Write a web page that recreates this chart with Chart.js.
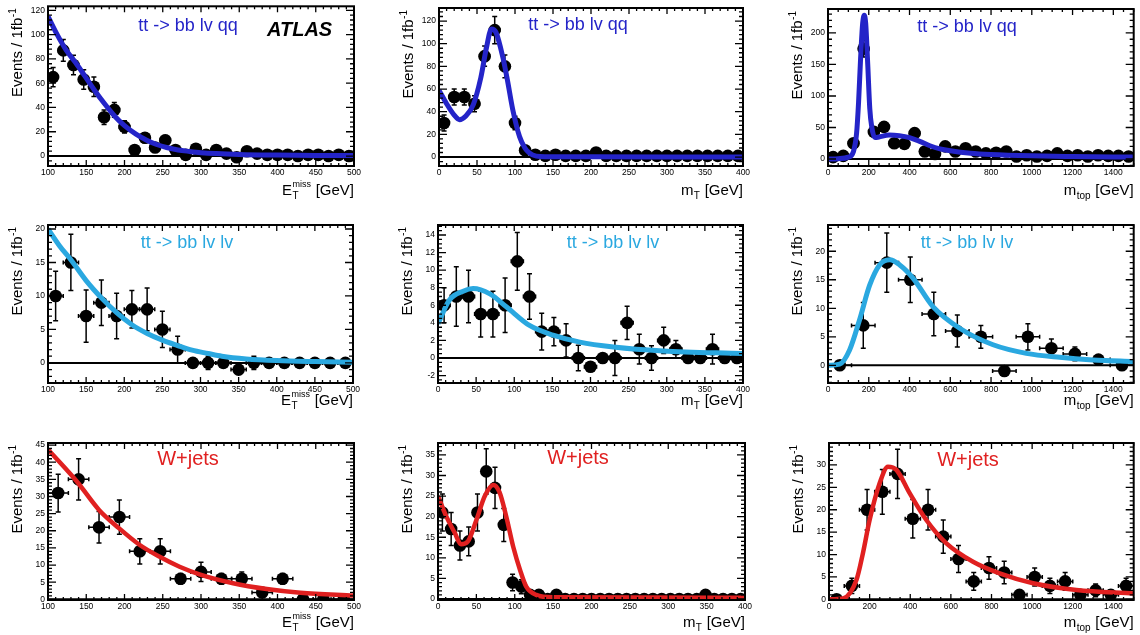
<!DOCTYPE html>
<html><head><meta charset="utf-8">
<script src="https://cdn.jsdelivr.net/npm/chart.js@4.4.0/dist/chart.umd.min.js"></script>
<style>
html,body{margin:0;padding:0;background:#fff;width:1140px;height:635px;overflow:hidden;position:relative}
canvas{position:absolute}
</style></head><body>
<script>
const FONT = '"Liberation Sans", Arial, Helvetica, sans-serif';

// ---------- Panel 1 : tt -> bb lv qq, ETmiss ----------
const p1X = [106.7,120,133.3,146.7,160,173.3,186.7,200,213.3,226.7,240,253.3,266.7,280,293.3,306.7,320,333.3,346.7,360,373.3,386.7,400,413.3,426.7,440,453.3,466.7,480,493.3];
const p1Y = [65,87,75,63,57,32,38,24,5,15,7,13,5,1,6,1,5,2,-1,4,2,1,1,1,0,1,1,0,1,0];
const p1Err = [8,9,8,8,8,6,6,5,3,4,3,4,3,2,3,2,3,2,2,2,2,2,2,2,2,2,2,2,2,2];
const p1CurveX = [100,112,124,136,148,161,174,187,200,215,229,242,255,270,285,300,320,350,400,450,500];
const p1CurveY = [115,100,87,77,66,54,43,33,25,18,13,9.5,7,5,3.8,2.8,2,1.3,0.8,0.5,0.4];
const p1XTicks = [100,150,200,250,300,350,400,450,500];
const p1YTicks = [0,20,40,60,80,100,120];

// ---------- Panel 2 : tt -> bb lv qq, mT ----------
const p2X = [6.67,20,33.3,46.7,60,73.3,86.7,100,113.3,126.7,140,153.3,166.7,180,193.3,206.7,220,233.3,246.7,260,273.3,286.7,300,313.3,326.7,340,353.3,366.7,380,393.3];
const p2Y = [30,53,53,47,89,112,80,30,6,2,1,2,1,1,1,4,1,1,1,1,1,1,1,1,1,1,1,1,1,1];
const p2Err = [7,7,7,7,9,12,10,6,3,2,2,2,2,2,2,2,2,2,2,2,2,2,2,2,2,2,2,2,2,2];
const p2CurveX = [0,10,20,27,35,45,55,62,69,75,84,90,97,106,113,119,128,140,200,400];
const p2CurveY = [59,47,37,33,36,46,70,95,113,110,88,68,42,18,8,3.5,0.8,0.3,0.2,0.1];
const p2XTicks = [0,50,100,150,200,250,300,350,400];
const p2YTicks = [0,20,40,60,80,100,120];

// ---------- Panel 3 : tt -> bb lv qq, mtop ----------
const p3X = [25,75,125,175,225,275,325,375,425,475,525,575,625,675,725,775,825,875,925,975,1025,1075,1125,1175,1225,1275,1325,1375,1425,1475];
const p3Y = [3,5,25,175,43,51,25,24,41,12,8,20,12,17,12,9,10,12,4,6,4,5,9,5,6,4,6,5,5,4];
const p3Err = [2,2,5,13,7,7,5,5,6,4,3,4,4,4,4,3,3,4,2,3,2,2,3,2,3,2,3,2,2,2];
const p3CurveX = [0,50,100,125,140,150,160,170,178,185,195,205,215,230,250,300,350,400,450,500,550,600,700,800,1000,1200,1500];
const p3CurveY = [0,0.5,3,12,40,90,160,215,228,215,150,80,50,34,35,38,37,34,28,21,16,13,9,7,5,4,3];
const p3XTicks = [0,200,400,600,800,1000,1200,1400];
const p3YTicks = [0,50,100,150,200];

// ---------- Panel 4 : tt -> bb lv lv, ETmiss ----------
const p4X = [110,130,150,170,190,210,230,250,270,290,310,330,350,370,390,410,430,450,470,490];
const p4Y = [10,15,7,9,7,8,8,5,2,0,0,0,-1,0,0,0,0,0,0,0];
const p4Err = [3.7,4.2,3.9,3.4,3.4,2.8,3.2,2.7,2,0,1,0,0,1,0,0,0,0,0,0];
const p4CurveX = [100,115,130,150,171,190,210,230,250,270,289,310,328,360,400,450,500];
const p4CurveY = [20,17.5,15.4,12.3,9.6,7.5,5.7,4.4,3.4,2.6,1.9,1.4,1.0,0.6,0.35,0.2,0.1];
const p4XTicks = [100,150,200,250,300,350,400,450,500];
const p4YTicks = [0,5,10,15,20];

// ---------- Panel 5 : tt -> bb lv lv, mT ----------
const p5X = [8,24,40,56,72,88,104,120,136,152,168,184,200,216,232,248,264,280,296,312,328,344,360,376,392];
const p5Y = [6,7,7,5,5,6,11,7,3,3,2,0,-1,0,0,4,1,0,2,1,0,0,1,0,0];
const p5Err = [2,3.4,3,2.6,2.6,3.1,3.3,2.6,2.1,1.6,1.9,1.45,0.5,0,2,1.9,1.7,1.4,1.5,1,0,0,1.7,0,0];
const p5CurveX = [0,15,33,46,68,90,120,151,186,230,295,400];
const p5CurveY = [3.9,6.6,7.6,7.9,7.3,5.8,3.7,2.6,1.8,1.25,0.8,0.5];
const p5XTicks = [0,50,100,150,200,250,300,350,400];
const p5YTicks = [-2,0,2,4,6,8,10,12,14];

// ---------- Panel 6 : tt -> bb lv lv, mtop ----------
const p6X = [57.7,173.1,288.5,403.8,519.2,634.6,750,865.4,980.8,1096.2,1211.5,1326.9,1442.3];
const p6Y = [0,7,18,15,9,6,5,-1,5,3,2,1,0];
const p6Err = [0,4,5.2,4,3.8,2.8,2,0,2.3,1.6,1.2,0.5,0];
const p6CurveX = [0,57,106,155,204,253,303,352,417,515,646,810,973,1137,1300,1500];
const p6CurveY = [0,0.2,2.7,8,14,17.6,18.5,17.6,15.3,10.3,6.5,3.6,2.1,1.4,0.95,0.65];
const p6XTicks = [0,200,400,600,800,1000,1200,1400];
const p6YTicks = [0,5,10,15,20];

// ---------- Panel 7 : W+jets, ETmiss ----------
const p7X = [113.3,140,166.7,193.3,220,246.7,273.3,300,326.7,353.3,380,406.7,433.3,460,486.7];
const p7Y = [31,35,21,24,14,14,6,8,6,6,2,6,0,0,0];
const p7Err = [5.5,6,4.6,5,3.7,3.7,1.5,2.8,1.5,2,1,1.5,0,0,0];
const p7CurveX = [100,138,167,193,219,246,272,298,342,386,430,500];
const p7CurveY = [43.7,34.3,26,20.7,16,12.4,9.5,7.3,4.7,3,1.9,1.1];
const p7XTicks = [100,150,200,250,300,350,400,450,500];
const p7YTicks = [0,5,10,15,20,25,30,35,40,45];

// ---------- Panel 8 : W+jets, mT ----------
const p8X = [5.71,17.14,28.57,40,51.43,62.86,74.29,85.71,97.14,108.57,120,131.43,142.86,154.29,165.71,177.14,188.57,200,211.43,222.86,234.29,245.71,257.14,268.57,280,291.43,302.86,314.29,325.71,337.14,348.57,360,371.43,382.86,394.29];
const p8Y = [21,17,13,14,21,31,27,18,4,3,1,1,0,1,0,0,0,0,0,0,0,0,0,0,0,0,0,0,0,0,1,0,0,0,0];
const p8Err = [4.5,4,3.5,3.5,4.5,5.5,5,4,2,1.7,1,1,0,1,0,0,0,0,0,0,0,0,0,0,0,0,0,0,0,0,1,0,0,0,0];
const p8CurveX = [0,11,22,30,39,50,61,72,80,89,98,107,115,128,150,400];
const p8CurveY = [25,20,16,13.3,14,19.2,25,27.7,26,20,12.7,7,3,1,0.4,0.3];
const p8XTicks = [0,50,100,150,200,250,300,350,400];
const p8YTicks = [0,5,10,15,20,25,30,35];

// ---------- Panel 9 : W+jets, mtop ----------
const p9X = [37.5,112.5,187.5,262.5,337.5,412.5,487.5,562.5,637.5,712.5,787.5,862.5,937.5,1012.5,1087.5,1162.5,1237.5,1312.5,1387.5,1462.5];
const p9Y = [0,3,20,24,28,18,20,14,9,4,7,6,1,5,3,4,1,2,1,3];
const p9Err = [0,1.7,4.5,5,5.5,4.3,4.5,3.7,3,2,2.5,2.5,1,2,1.7,2,1,1.4,1,1.7];
const p9CurveX = [0,69,135,167,200,250,290,332,397,479,578,709,840,1005,1218,1500];
const p9CurveY = [0,0.2,4.3,10.3,17.7,26,29.6,28.9,23.7,17.7,12.5,8.4,5.8,3.6,2.1,1.3];
const p9XTicks = [0,200,400,600,800,1000,1200,1400];
const p9YTicks = [0,5,10,15,20,25,30];

const BLUE = '#2424c8', LBLUE = '#2aa8e0', RED = '#e02020';
const ET = {main:'E', sub:'T', sup:'miss'}, MT = {main:'m', sub:'T'}, MTOP = {main:'m', sub:'top'};

const panels = [
 {x:p1X,y:p1Y,err:p1Err,hw:6.67,cx:p1CurveX,cy:p1CurveY,xt:p1XTicks,yt:p1YTicks,
  canvas:[0,0,380,212],plot:[48,6,354,166],xr:[100,500],yr:[-8.2,123.3],xm:10,ym:4,
  color:BLUE,lw:5,title:'tt -> bb lv qq',tsize:18,tpos:[188,26],xl:ET,xlBase:195,atlas:true},
 {x:p2X,y:p2Y,err:p2Err,hw:6.67,cx:p2CurveX,cy:p2CurveY,xt:p2XTicks,yt:p2YTicks,
  canvas:[380,0,380,212],plot:[439,8,743,166],xr:[0,400],yr:[-7.9,131.5],xm:10,ym:4,
  color:BLUE,lw:5,title:'tt -> bb lv qq',tsize:18,tpos:[578,25],xl:MT,xlBase:195},
 {x:p3X,y:p3Y,err:p3Err,hw:25,cx:p3CurveX,cy:p3CurveY,xt:p3XTicks,yt:p3YTicks,
  canvas:[760,0,380,212],plot:[828,9,1135,166],xr:[0,1500],yr:[-11.1,238],xm:50,ym:10,
  color:BLUE,lw:5,title:'tt -> bb lv qq',tsize:18,tpos:[967,27],xl:MTOP,xlBase:195},
 {x:p4X,y:p4Y,err:p4Err,hw:10,cx:p4CurveX,cy:p4CurveY,xt:p4XTicks,yt:p4YTicks,
  canvas:[0,212,380,210],plot:[48,225,353,383],xr:[100,500],yr:[-3.0,20.6],xm:10,ym:1,
  color:LBLUE,lw:5,title:'tt -> bb lv lv',tsize:18,tpos:[187,243],xl:ET,xlBase:405},
 {x:p5X,y:p5Y,err:p5Err,hw:8,cx:p5CurveX,cy:p5CurveY,xt:p5XTicks,yt:p5YTicks,
  canvas:[380,212,380,210],plot:[438,225,743,383],xr:[0,400],yr:[-2.85,15.14],xm:10,ym:0.5,
  color:LBLUE,lw:5,title:'tt -> bb lv lv',tsize:18,tpos:[613,243],xl:MT,xlBase:405},
 {x:p6X,y:p6Y,err:p6Err,hw:57.7,cx:p6CurveX,cy:p6CurveY,xt:p6XTicks,yt:p6YTicks,
  canvas:[760,212,380,210],plot:[828,225,1134,383],xr:[0,1500],yr:[-3.1,24.6],xm:50,ym:1,
  color:LBLUE,lw:5,title:'tt -> bb lv lv',tsize:18,tpos:[967,243],xl:MTOP,xlBase:405},
 {x:p7X,y:p7Y,err:p7Err,hw:13.33,cx:p7CurveX,cy:p7CurveY,xt:p7XTicks,yt:p7YTicks,
  canvas:[0,422,380,213],plot:[48,443,354,600],xr:[100,500],yr:[-0.2,45.6],xm:10,ym:1,
  color:RED,lw:4.5,title:'W+jets',tsize:20,tpos:[188,459],xl:ET,xlBase:627},
 {x:p8X,y:p8Y,err:p8Err,hw:5.71,cx:p8CurveX,cy:p8CurveY,xt:p8XTicks,yt:p8YTicks,
  canvas:[380,422,380,213],plot:[438,443,745,600],xr:[0,400],yr:[-0.24,37.9],xm:10,ym:1,
  color:RED,lw:4.5,title:'W+jets',tsize:20,tpos:[578,458],xl:MT,xlBase:627},
 {x:p9X,y:p9Y,err:p9Err,hw:37.5,cx:p9CurveX,cy:p9CurveY,xt:p9XTicks,yt:p9YTicks,
  canvas:[760,422,380,213],plot:[829,443,1134,600],xr:[0,1500],yr:[-0.15,34.9],xm:50,ym:1,
  color:RED,lw:4.5,title:'W+jets',tsize:20,tpos:[968,460],xl:MTOP,xlBase:627}
];

function makePlugin(cfg, n){
  const [cl, ct] = cfg.canvas;
  return {
    id: 'rootStyle' + n,
    beforeDatasetsDraw(chart){
      const ctx = chart.ctx, a = chart.chartArea, xs = chart.scales.x, ys = chart.scales.y;
      ctx.save();
      ctx.beginPath(); ctx.rect(a.left, a.top, a.right - a.left, a.bottom - a.top); ctx.clip();
      const y0 = ys.getPixelForValue(0);
      ctx.strokeStyle = '#000'; ctx.lineWidth = 2;
      ctx.beginPath(); ctx.moveTo(a.left, y0); ctx.lineTo(a.right, y0); ctx.stroke();
      ctx.lineWidth = 1.5;
      cfg.x.forEach((xv, i) => {
        const yv = cfg.y[i], e = cfg.err[i];
        const px = xs.getPixelForValue(xv), py = ys.getPixelForValue(yv);
        ctx.beginPath();
        if (e > 0) {
          const t = ys.getPixelForValue(yv + e), b = ys.getPixelForValue(yv - e);
          ctx.moveTo(px, t); ctx.lineTo(px, b);
          ctx.moveTo(px - 2.5, t); ctx.lineTo(px + 2.5, t);
          ctx.moveTo(px - 2.5, b); ctx.lineTo(px + 2.5, b);
        }
        const l = xs.getPixelForValue(xv - cfg.hw), r = xs.getPixelForValue(xv + cfg.hw);
        ctx.moveTo(l, py); ctx.lineTo(r, py);
        ctx.moveTo(l, py - 2); ctx.lineTo(l, py + 2);
        ctx.moveTo(r, py - 2); ctx.lineTo(r, py + 2);
        ctx.stroke();
      });
      ctx.restore();
    },
    afterDraw(chart){
      const ctx = chart.ctx, a = chart.chartArea, xs = chart.scales.x, ys = chart.scales.y;
      ctx.save();
      ctx.strokeStyle = '#000'; ctx.lineWidth = 2;
      ctx.strokeRect(a.left, a.top, a.right - a.left, a.bottom - a.top);
      ctx.lineWidth = 1.3;
      ctx.beginPath();
      const near = (v, arr, step) => arr.some(t => Math.abs(t - v) < step * 0.01);
      let k0 = Math.ceil(cfg.xr[0] / cfg.xm - 1e-9), k1 = Math.floor(cfg.xr[1] / cfg.xm + 1e-9);
      for (let k = k0; k <= k1; k++) {
        const v = k * cfg.xm, px = xs.getPixelForValue(v);
        const L = near(v, cfg.xt, cfg.xm) ? 6 : 3;
        ctx.moveTo(px, a.bottom); ctx.lineTo(px, a.bottom - L);
        ctx.moveTo(px, a.top); ctx.lineTo(px, a.top + L);
      }
      k0 = Math.ceil(cfg.yr[0] / cfg.ym - 1e-9); k1 = Math.floor(cfg.yr[1] / cfg.ym + 1e-9);
      for (let k = k0; k <= k1; k++) {
        const v = k * cfg.ym, py = ys.getPixelForValue(v);
        const L = near(v, cfg.yt, cfg.ym) ? 8 : 4;
        ctx.moveTo(a.left, py); ctx.lineTo(a.left + L, py);
        ctx.moveTo(a.right, py); ctx.lineTo(a.right - L, py);
      }
      ctx.stroke();
      ctx.fillStyle = cfg.color;
      ctx.font = cfg.tsize + 'px ' + FONT;
      ctx.textAlign = 'center'; ctx.textBaseline = 'middle';
      ctx.fillText(cfg.title, cfg.tpos[0] - cl, cfg.tpos[1] - ct);
      if (cfg.atlas) {
        ctx.fillStyle = '#000';
        ctx.font = 'italic bold 20px ' + FONT;
        ctx.textAlign = 'left';
        ctx.fillText('ATLAS', 267 - cl, 30 - ct);
      }
      ctx.fillStyle = '#000';
      ctx.textBaseline = 'middle';
      ctx.translate(a.left - 30, a.top + 2);
      ctx.rotate(-Math.PI / 2);
      ctx.font = '10px ' + FONT;
      const wSup = ctx.measureText('-1').width;
      ctx.textAlign = 'right';
      ctx.fillText('-1', 0, -5);
      ctx.font = '15px ' + FONT;
      ctx.fillText('Events / 1fb', -wSup - 0.5, 0);
      ctx.setTransform(1, 0, 0, 1, 0, 0);
      const xl = cfg.xl, base = cfg.xlBase - ct;
      ctx.textBaseline = 'alphabetic'; ctx.textAlign = 'left';
      ctx.font = '15px ' + FONT; const wMain = ctx.measureText(xl.main).width;
      const wRest = ctx.measureText(' [GeV]').width;
      ctx.font = '10px ' + FONT; const wSub = ctx.measureText(xl.sub).width;
      ctx.font = '9px ' + FONT; const wSupX = xl.sup ? ctx.measureText(xl.sup).width : 0;
      const wMid = Math.max(wSub, wSupX) + 1;
      let x0 = a.right - (wMain + wMid + wRest);
      ctx.font = '15px ' + FONT; ctx.fillText(xl.main, x0, base);
      ctx.font = '10px ' + FONT; ctx.fillText(xl.sub, x0 + wMain + 0.5, base + 4);
      if (xl.sup) { ctx.font = '9px ' + FONT; ctx.fillText(xl.sup, x0 + wMain + 0.5, base - 8); }
      ctx.font = '15px ' + FONT; ctx.fillText(' [GeV]', x0 + wMain + wMid, base);
      ctx.restore();
    }
  };
}

panels.forEach((cfg, n) => {
  const [cl, ct, cw, ch] = cfg.canvas;
  const [pl, pt, pr, pb] = cfg.plot;
  const cv = document.createElement('canvas');
  cv.width = cw; cv.height = ch;
  cv.style.left = cl + 'px'; cv.style.top = ct + 'px';
  cv.style.width = cw + 'px'; cv.style.height = ch + 'px';
  document.body.appendChild(cv);
  const tickFont = {family: FONT, size: 8.5};
  new Chart(cv.getContext('2d'), {
    type: 'scatter',
    data: {
      datasets: [
        {type: 'line', data: cfg.cx.map((x, i) => ({x: x, y: cfg.cy[i]})),
         borderColor: cfg.color, borderWidth: cfg.lw, pointRadius: 0, fill: false,
         cubicInterpolationMode: 'monotone', order: 0},
        {type: 'scatter', data: cfg.x.map((x, i) => ({x: x, y: cfg.y[i]})),
         backgroundColor: '#000', borderColor: '#000', borderWidth: 0, pointRadius: 6.3, order: 1}
      ]
    },
    options: {
      responsive: false, animation: false, events: [], devicePixelRatio: 1,
      layout: {padding: {left: 0, top: pt - ct, right: cl + cw - pr, bottom: 0}},
      plugins: {legend: {display: false}, tooltip: {enabled: false}},
      scales: {
        x: {type: 'linear', min: cfg.xr[0], max: cfg.xr[1],
            grid: {display: false, drawTicks: false}, border: {display: false},
            afterBuildTicks: s => { s.ticks = cfg.xt.map(v => ({value: v})); },
            afterFit: s => { s.height = ct + ch - pb; s.paddingLeft = 0; s.paddingRight = 0; },
            ticks: {font: tickFont, color: '#000', padding: 2, maxRotation: 0, autoSkip: false,
                    callback: v => String(v)}},
        y: {type: 'linear', min: cfg.yr[0], max: cfg.yr[1],
            grid: {display: false, drawTicks: false}, border: {display: false},
            afterBuildTicks: s => { s.ticks = cfg.yt.map(v => ({value: v})); },
            afterFit: s => { s.width = pl - cl; s.paddingTop = 0; s.paddingBottom = 0; },
            ticks: {font: tickFont, color: '#000', padding: 3, autoSkip: false,
                    callback: v => String(v)}}
      }
    },
    plugins: [makePlugin(cfg, n)]
  });
});
</script>
</body></html>
